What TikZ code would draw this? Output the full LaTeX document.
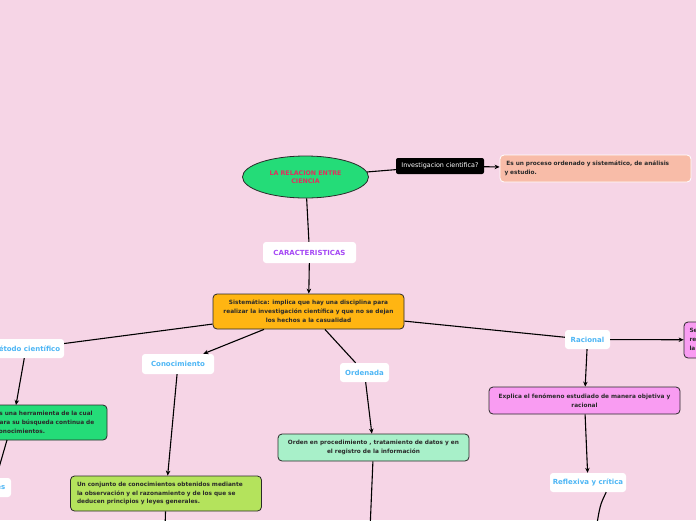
\documentclass[tikz,border=0pt]{standalone}
\usepackage{fontspec}
\setmainfont{DejaVu Sans}
\usetikzlibrary{shapes.geometric,arrows.meta}
\definecolor{bgpink}{HTML}{F6D5E6}
\definecolor{cgreen}{HTML}{24DC78}
\definecolor{ctitle}{HTML}{E0305F}
\definecolor{csalmon}{HTML}{F8BCA8}
\definecolor{corange}{HTML}{FFB512}
\definecolor{clime}{HTML}{B4E35C}
\definecolor{cmint}{HTML}{A8F0C9}
\definecolor{cpink}{HTML}{F99CF2}
\definecolor{cblue}{HTML}{4DB6F5}
\definecolor{cpurple}{HTML}{A548F5}
\definecolor{cdark}{HTML}{2A2A2A}
\tikzset{
  lbl/.style={fill=white, rounded corners=3pt, inner sep=0pt, text=cblue,
    font=\fontsize{7}{8}\selectfont\bfseries, align=center},
  infobox/.style={draw=cdark, line width=0.8pt, rounded corners=4pt, inner sep=0pt,
    text=cdark, font=\fontsize{5.8}{8.8}\selectfont\bfseries, minimum width=191pt},
  conn/.style={draw=black, line width=1.1pt},
  arr/.style={conn, -{Stealth[length=5pt,width=4.5pt]}},
}
\begin{document}
\begin{tikzpicture}[x=1pt,y=-1pt]
\useasboundingbox (0,0) rectangle (696,520);
\fill[bgpink] (0,0) rectangle (696,520);
\clip (0,0) rectangle (696,520);

% nodes
\node[ellipse, draw=cdark, line width=0.8pt, fill=cgreen, minimum width=126pt, minimum height=42pt,
  inner sep=0pt, text=ctitle, font=\fontsize{6.3}{8.5}\selectfont\bfseries, align=center]
  (ell) at (305.5,177) {LA RELACION ENTRE\\CIENCIA};
\node[fill=black, rounded corners=2pt, text=white, minimum width=88pt, minimum height=16pt, inner sep=0pt,
  font=\fontsize{6.4}{7}\selectfont] (inv) at (440,166) {Investigacion cientifica?};
\node[draw=white, line width=0.8pt, fill=csalmon, rounded corners=4pt, minimum width=191pt, minimum height=27pt,
  inner sep=0pt, text=cdark, font=\fontsize{5.8}{8.8}\selectfont\bfseries, align=left, text width=182pt]
  (sal) at (595.5,168.5) {\ Es un proceso ordenado y sistemático, de análisis\\y estudio.};
\node[lbl, text=cpurple, minimum width=93pt, minimum height=21pt] (car) at (309.5,252.5) {CARACTERISTICAS};
\node[infobox, fill=corange, minimum height=35pt, align=center] (ora) at (308.5,311.5)
  {Sistemática: implica que hay una disciplina para\\realizar la investigación científica y que no se dejan\\los hechos a la casualidad};
\node[lbl, minimum width=76pt, minimum height=19pt] (met) at (26,348.5) {Método científico};
\node[infobox, fill=cgreen, minimum width=115pt, minimum height=35pt, align=left, text width=108pt]
  (gre) at (49.5,422.5) {Es una herramienta de la cual\\para su búsqueda continua de\\conocimientos.};
\node[lbl, minimum width=34pt, minimum height=19pt] (ley) at (-6,487.5) {Leyes};
\node[lbl, minimum width=72pt, minimum height=20pt] (con) at (178,364) {Conocimiento};
\node[infobox, fill=clime, minimum height=35pt, align=left, text width=178pt] (lim) at (166,493.5)
  {Un conjunto de conocimientos obtenidos mediante\\la observación y el razonamiento y de los que se\\deducen principios y leyes generales.};
\node[lbl, minimum width=49pt, minimum height=19pt] (ord) at (364.5,372.5) {Ordenada};
\node[infobox, fill=cmint, minimum height=27pt, align=center] (min) at (373.5,447.5)
  {Orden en procedimiento , tratamiento de datos y en\\el registro de la información};
\node[lbl, minimum width=45pt, minimum height=19pt] (rac) at (587.5,339.5) {Racional};
\node[infobox, fill=cpink, minimum height=36pt, align=left, text width=180pt] (pkr) at (779.5,340)
  {Se fundamenta en la razón,\\resultados basados en\\la lógica};
\node[infobox, fill=cpink, minimum height=27pt, align=center] (pnk) at (584.5,400.5)
  {Explica el fenómeno estudiado de manera objetiva y\\racional};
\node[lbl, minimum width=76pt, minimum height=19pt] (ref) at (588,482.5) {Reflexiva y crítica};

\coordinate (o1) at (-4,478);
\coordinate (o2) at (165,530);
\coordinate (o3) at (370,530);
\coordinate (o4) at (596,530);

% connectors
\draw[conn] (ell) -- (inv);
\draw[arr] (inv) -- (sal);
\draw[conn] (ell) -- (car);
\draw[arr] (car) -- (ora);
\draw[conn] (ora) -- (met);
\draw[arr] (ora) -- (con);
\draw[conn] (ora) -- (ord);
\draw[conn] (ora) -- (rac);
\draw[arr] (met) -- (16,405);
\draw[conn] (7,440) -- (o1);
\draw[arr] (con) -- (lim);
\draw[conn] (lim) -- (o2);
\draw[arr] (ord) -- (min);
\draw[conn] (min) -- (o3);
\draw[arr] (rac) -- (pkr);
\draw[arr] (rac) -- (pnk);
\draw[arr] (pnk) -- (ref);
\draw[conn] (ref.south east) ++(-20,0) .. controls (600,505) .. (o4);
\end{tikzpicture}
\end{document}
